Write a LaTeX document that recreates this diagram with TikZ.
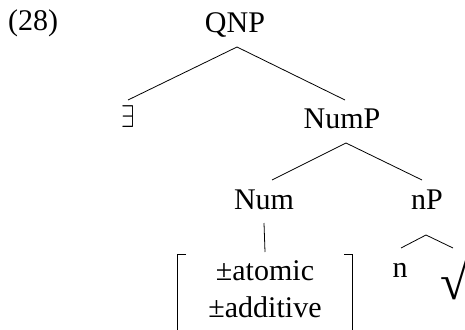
\documentclass[tikz,border=0pt]{standalone}
\usepackage{fontspec}
\usepackage{graphicx}
\setmainfont{Liberation Serif}
\begin{document}
\begin{tikzpicture}[x=1pt,y=-1pt,
  lbl/.style={anchor=base,inner sep=0pt,font=\fontsize{30}{36}\selectfont},
  edge/.style={line width=0.8pt}]
\useasboundingbox[fill=white] (0,0) rectangle (465,329);
\node[lbl,anchor=base west] (ex28) at (8,31) {(28)};
\node[lbl] (qnp) at (235,33) {QNP};
\node[lbl] (ex) at (128,127) {\scalebox{2.4}[3.15]{\normalsize$\exists$}};
\node[lbl] (nump) at (342,128) {NumP};
\node[lbl] (num) at (264,209) {Num};
\node[lbl] (np) at (427,209) {nP};
\node[lbl] (fa) at (265,280) {±atomic};
\node[lbl] (fb) at (265,317) {±additive};
\node[lbl] (n) at (400,277) {n};
\node[lbl,anchor=base west,font=\fontsize{50}{60}\selectfont] (root) at (440,299) {√};
\draw[edge] ([xshift=2pt,yshift=-14pt]qnp.base) -- ([yshift=27pt]ex.base);
\draw[edge] ([xshift=2pt,yshift=-14pt]qnp.base) -- ([xshift=3pt,yshift=28pt]nump.base);
\draw[edge] ([xshift=4pt,yshift=-15pt]nump.base) -- ([xshift=8pt,yshift=29pt]num.base);
\draw[edge] ([xshift=4pt,yshift=-15pt]nump.base) -- ([xshift=-5pt,yshift=29pt]np.base);
\draw[edge] ([yshift=-14pt]num.base) -- ([yshift=28pt]fa.base);
\draw[edge] ([xshift=-1pt,yshift=-26pt]np.base) -- ([xshift=1pt,yshift=29pt]n.base);
\draw[edge] ([xshift=-1pt,yshift=-26pt]np.base) -- ([xshift=13pt,yshift=51pt]root.base west);
\draw[line width=1.1pt] (186,254.5) -- (177.5,254.5) -- (177.5,345);
\draw[line width=1.1pt] (344,254.5) -- (352.5,254.5) -- (352.5,345);
\end{tikzpicture}
\end{document}
